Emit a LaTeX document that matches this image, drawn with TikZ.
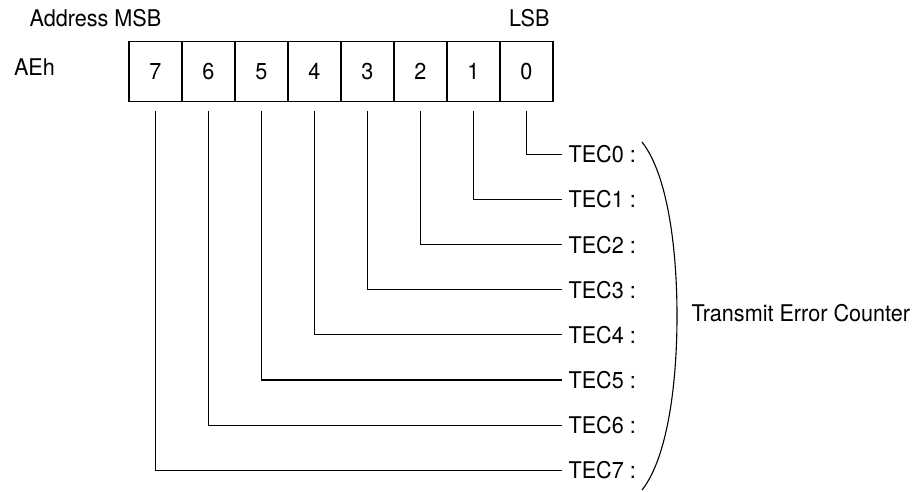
\documentclass[tikz,border=0pt]{standalone}
\usepackage{fontspec}
\setmainfont{TeX Gyre Heros}[FakeStretch=0.94]

\begin{document}
\begin{tikzpicture}[x=1pt, y=-1pt, line width=1.1pt,
  every node/.style={font=\fontsize{23}{27}\selectfont},
  bitcell/.style={draw, minimum width=53pt, minimum height=60pt, inner sep=0pt, outer sep=0pt},
  teclabel/.style={anchor=west, inner sep=6pt}]
\useasboundingbox (0,0) rectangle (915,491);

\node[anchor=base west, inner sep=0pt] (addr) at (29,26){Address MSB};
\node[anchor=base east, inner sep=0pt] (lsb) at (550,26.5){LSB};
\node[anchor=base west, inner sep=0pt] (aeh) at (13.5,75){AEh};

\node[bitcell] (bit7) at (155.5,71.5){7};
\node[bitcell] (bit6) at (208.5,71.5){6};
\node[bitcell] (bit5) at (261.5,71.5){5};
\node[bitcell] (bit4) at (314.5,71.5){4};
\node[bitcell] (bit3) at (367.5,71.5){3};
\node[bitcell] (bit2) at (420.5,71.5){2};
\node[bitcell] (bit1) at (473.5,71.5){1};
\node[bitcell] (bit0) at (526.5,71.5){0};

\node[teclabel] (tec0) at (562,154.5){TEC0 :};
\draw[]([yshift=-9.5pt]bit0.south) |- (tec0.west);
\node[teclabel] (tec1) at (562,199.6){TEC1 :};
\draw[]([yshift=-9.5pt]bit1.south) |- (tec1.west);
\node[teclabel] (tec2) at (562,244.7){TEC2 :};
\draw[]([yshift=-9.5pt]bit2.south) |- (tec2.west);
\node[teclabel] (tec3) at (562,289.8){TEC3 :};
\draw[]([yshift=-9.5pt]bit3.south) |- (tec3.west);
\node[teclabel] (tec4) at (562,334.9){TEC4 :};
\draw[]([yshift=-9.5pt]bit4.south) |- (tec4.west);
\node[teclabel] (tec5) at (562,380.0){TEC5 :};
\draw[]([yshift=-9.5pt]bit5.south) |- (tec5.west);
\node[teclabel] (tec6) at (562,425.1){TEC6 :};
\draw[]([yshift=-9.5pt]bit6.south) |- (tec6.west);
\node[teclabel] (tec7) at (562,470.2){TEC7 :};
\draw[]([yshift=-9.5pt]bit7.south) |- (tec7.west);

% brace
\coordinate (brtop) at (642,142);
\coordinate (brmid) at (677,316);
\coordinate (brbot) at (642,490);
\draw[] (brtop) .. controls (668,175) and (677,250) .. (brmid)
  .. controls (677,382) and (668,457) .. (brbot);
\node[anchor=base west, inner sep=0pt] (tecname) at (691,321){Transmit Error Counter};

\end{tikzpicture}
\end{document}
